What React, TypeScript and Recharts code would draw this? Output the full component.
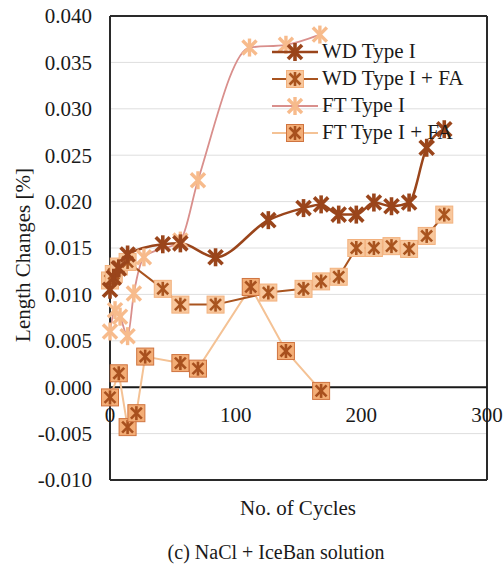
import React from "react";
import {
  CartesianGrid,
  Line,
  LineChart,
  ReferenceLine,
  XAxis,
  YAxis,
} from "recharts";

if (typeof document !== "undefined") document.body.style.margin = "0";

// cycles / length changes
const wdCycles = [0, 3, 7, 14, 42, 56, 84, 126, 154, 168, 182, 196, 210, 224, 238, 252, 266];
const wdValues = [0.0105, 0.0118, 0.0128, 0.0143, 0.0154, 0.0155, 0.014, 0.018, 0.0193, 0.0197, 0.0186, 0.0186, 0.0199, 0.0195, 0.0199, 0.0258, 0.0278];

const wdFaCycles = [0, 3, 7, 14, 42, 56, 84, 126, 154, 168, 182, 196, 210, 224, 238, 252, 266];
const wdFaValues = [0.0115, 0.0122, 0.013, 0.0135, 0.0106, 0.0089, 0.0089, 0.0102, 0.0106, 0.0114, 0.0119, 0.015, 0.015, 0.0152, 0.0149, 0.0163, 0.0186];

const ftCycles = [0, 4, 8, 14, 19, 27, 56, 70, 111, 140, 167];
const ftValues = [0.006, 0.0083, 0.0076, 0.0055, 0.0101, 0.014, 0.0158, 0.0223, 0.0366, 0.0369, 0.038];

const ftFaCycles = [0, 7, 14, 21, 28, 56, 70, 112, 140, 168];
const ftFaValues = [-0.0011, 0.0015, -0.0043, -0.0028, 0.0033, 0.0026, 0.002, 0.0108, 0.0039, -0.0004];

const xTicks = [0, 100, 200, 300];
const yTicks = [-0.01, -0.005, 0, 0.005, 0.01, 0.015, 0.02, 0.025, 0.03, 0.035, 0.04];

const toPoints = (cycles: number[], values: number[]) =>
  cycles.map((c, i) => ({ cycle: c, value: values[i] }));

const FONT = "'Liberation Serif', 'DejaVu Serif', serif";

const C_WD = "#9a451b";
const C_WDFA = "#a9541f";
const C_FT_LINE = "#d98f8c";
const C_FT_MARK = "#f7bb8c";
const C_FTFA_LINE = "#f4c295";

function Star({ cx, cy, color, r = 8, w = 3 }: any) {
  const d = r * 0.78;
  return (
    <g stroke={color} strokeWidth={w}>
      <line x1={cx - d} y1={cy - d} x2={cx + d} y2={cy + d} />
      <line x1={cx - d} y1={cy + d} x2={cx + d} y2={cy - d} />
      <line x1={cx} y1={cy - r} x2={cx} y2={cy + r} />
    </g>
  );
}

function BoxStar({ cx, cy, fill, border, color }: any) {
  return (
    <g>
      <rect x={cx - 8.5} y={cy - 8.5} width={17} height={17} fill={fill} stroke={border} strokeWidth={1} />
      <Star cx={cx} cy={cy} color={color} r={7} w={2.6} />
    </g>
  );
}

const markers: Record<string, (cx: number, cy: number) => React.ReactElement> = {
  wd: (cx, cy) => <Star cx={cx} cy={cy} color={C_WD} r={9} w={3.6} />,
  wdfa: (cx, cy) => <BoxStar cx={cx} cy={cy} fill="#f8c79c" border="#f2b17e" color={C_WDFA} />,
  ft: (cx, cy) => <Star cx={cx} cy={cy} color={C_FT_MARK} r={9} w={3.4} />,
  ftfa: (cx, cy) => <BoxStar cx={cx} cy={cy} fill="#f3ad76" border="#cf7440" color="#a8501e" />,
};

const dotFor = (kind: string) => (props: any) =>
  props.cx == null ? <g key={props.index} /> : <g key={props.index}>{markers[kind](props.cx, props.cy)}</g>;

const XTick = (props: any) => (
  <text
    x={props.x}
    y={props.y - 58}
    textAnchor="middle"
    fontFamily={FONT}
    fontSize={21}
    fill="#1a1a1a"
  >
    {props.payload.value}
  </text>
);

const legendItems = [
  { label: "WD Type I", line: C_WD, kind: "wd", lw: 2.5 },
  { label: "WD Type I + FA", line: C_WDFA, kind: "wdfa", lw: 2 },
  { label: "FT Type I", line: C_FT_LINE, kind: "ft", lw: 1.8 },
  { label: "FT Type I + FA", line: C_FTFA_LINE, kind: "ftfa", lw: 2 },
];

export default function App() {
  return (
    <div style={{ position: "relative", width: 504, height: 567, background: "#fff", fontFamily: FONT }}>
      <LineChart width={504} height={567} margin={{ top: 16, right: 17, bottom: 57, left: 40 }}>
        <CartesianGrid vertical={false} stroke="#dedede" strokeWidth={1} />
        <XAxis
          type="number"
          dataKey="cycle"
          domain={[0, 300]}
          ticks={xTicks}
          tickLine={false}
          tickSize={0}
          tickMargin={0}
          axisLine={{ stroke: "#2a2a2a", strokeWidth: 2 }}
          tick={<XTick />}
          height={30}
          allowDuplicatedCategory={false}
        />
        <YAxis
          type="number"
          domain={[-0.01, 0.04]}
          ticks={yTicks}
          width={70}
          tickLine={false}
          tickSize={0}
          tickMargin={18}
          axisLine={{ stroke: "#2a2a2a", strokeWidth: 2 }}
          tickFormatter={(v: number) => v.toFixed(3)}
          tick={{ fill: "#1a1a1a", fontSize: 21, fontFamily: FONT }}
        />
        <ReferenceLine y={0.04} stroke="#2a2a2a" strokeWidth={2} />
        <ReferenceLine x={300} stroke="#2a2a2a" strokeWidth={2} />
        <ReferenceLine y={0} stroke="#1a1a1a" strokeWidth={2} />
        <Line
          data={toPoints(ftFaCycles, ftFaValues)}
          dataKey="value"
          type="linear"
          stroke={C_FTFA_LINE}
          strokeWidth={2}
          dot={dotFor("ftfa")}
          isAnimationActive={false}
        />
        <Line
          data={toPoints(ftCycles, ftValues)}
          dataKey="value"
          type="monotone"
          stroke={C_FT_LINE}
          strokeWidth={1.8}
          dot={dotFor("ft")}
          isAnimationActive={false}
        />
        <Line
          data={toPoints(wdFaCycles, wdFaValues)}
          dataKey="value"
          type="linear"
          stroke={C_WDFA}
          strokeWidth={2}
          dot={dotFor("wdfa")}
          isAnimationActive={false}
        />
        <Line
          data={toPoints(wdCycles, wdValues)}
          dataKey="value"
          type="monotone"
          stroke={C_WD}
          strokeWidth={2.5}
          dot={dotFor("wd")}
          isAnimationActive={false}
        />
      </LineChart>

      {/* legend, no fill like the original */}
      <div style={{ position: "absolute", left: 270, top: 38 }}>
        {legendItems.map((it) => (
          <div key={it.label} style={{ display: "flex", alignItems: "center", height: 27 }}>
            <svg width={50} height={24} style={{ display: "block" }}>
              <line x1={2} y1={12} x2={48} y2={12} stroke={it.line} strokeWidth={it.lw} />
              {markers[it.kind](25, 12)}
            </svg>
            <span style={{ fontSize: 21, color: "#1a1a1a", lineHeight: "27px", marginLeft: 2, whiteSpace: "nowrap" }}>
              {it.label}
            </span>
          </div>
        ))}
      </div>

      <div
        style={{
          position: "absolute",
          left: 23,
          top: 255,
          transform: "translate(-50%, -50%) rotate(-90deg)",
          fontSize: 21,
          color: "#1a1a1a",
          whiteSpace: "nowrap",
        }}
      >
        Length Changes [%]
      </div>
      <div
        style={{
          position: "absolute",
          left: 298,
          top: 508,
          transform: "translate(-50%, -50%)",
          fontSize: 21,
          color: "#1a1a1a",
          whiteSpace: "nowrap",
        }}
      >
        No. of Cycles
      </div>
      <div
        style={{
          position: "absolute",
          left: 276,
          top: 552,
          transform: "translate(-50%, -50%)",
          fontSize: 20,
          color: "#1a1a1a",
          whiteSpace: "nowrap",
        }}
      >
        (c) NaCl + IceBan solution
      </div>
    </div>
  );
}
